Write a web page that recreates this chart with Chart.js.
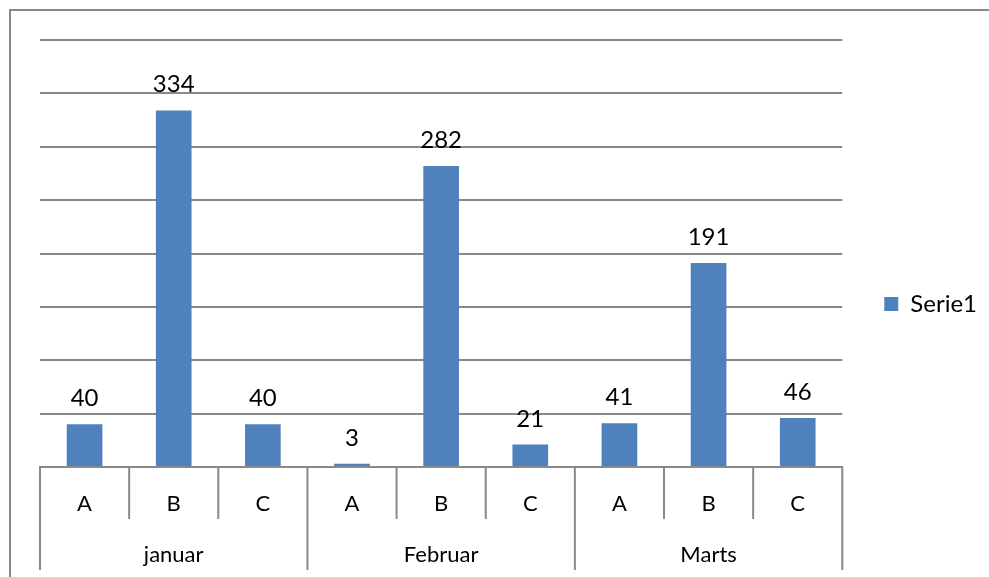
<!DOCTYPE html>
<html>
<head>
<meta charset="utf-8">
<script src="https://cdn.jsdelivr.net/npm/chart.js@4/dist/chart.umd.min.js"></script>
<style>
  html, body { margin: 0; padding: 0; background: #fff; }
  #wrap { width: 989px; height: 577px; }
</style>
</head>
<body>
<div id="wrap"><canvas id="myChart" width="989" height="577"></canvas></div>
<script>
const categories = ["A", "B", "C", "A", "B", "C", "A", "B", "C"];
const months = ["januar", "Februar", "Marts"];
const serie1 = [40, 334, 40, 3, 282, 21, 41, 191, 46];

const gray = "#898989";
const blue = "#4F81BD";
const fontFamily = "Lato, 'Liberation Sans', sans-serif";

// frame round the whole chart
const framePlugin = {
  id: "frame",
  beforeDraw(chart) {
    const ctx = chart.ctx;
    ctx.save();
    ctx.strokeStyle = gray;
    ctx.lineWidth = 2;
    ctx.strokeRect(10, 10, chart.width + 20, chart.height + 20);
    ctx.restore();
  }
};

// dividers under the category axis (short between items, long between months)
const dividerPlugin = {
  id: "dividers",
  afterDraw(chart) {
    const x = chart.scales.x;
    const ctx = chart.ctx;
    const n = categories.length;
    const w = (x.right - x.left) / n;
    ctx.save();
    ctx.strokeStyle = gray;
    ctx.lineWidth = 2;
    for (let k = 0; k <= n; k++) {
      const px = x.left + k * w;
      const len = k % 3 === 0 ? 103 : 52;
      ctx.beginPath();
      ctx.moveTo(px, x.top);
      ctx.lineTo(px, x.top + len);
      ctx.stroke();
    }
    ctx.restore();
  }
};

// value labels above the bars
const valuePlugin = {
  id: "values",
  afterDatasetsDraw(chart) {
    const ctx = chart.ctx;
    const meta = chart.getDatasetMeta(0);
    ctx.save();
    ctx.fillStyle = "#000";
    ctx.font = "24px " + fontFamily;
    ctx.textAlign = "center";
    ctx.textBaseline = "alphabetic";
    meta.data.forEach((bar, i) => {
      ctx.fillText(String(serie1[i]), bar.x, bar.y - 18);
    });
    ctx.restore();
  }
};

const data = {
  labels: categories,
  datasets: [
    {
      label: "Serie1",
      backgroundColor: blue,
      borderWidth: 0,
      data: serie1,
      barPercentage: 0.4,
      categoryPercentage: 1.0,
    },
  ],
};

const config = {
  type: "bar",
  data: data,
  options: {
    responsive: false,
    animation: false,
    layout: { padding: { left: 40, top: 40, right: 2, bottom: 9 } },
    plugins: {
      tooltip: { enabled: false },
      legend: {
        position: "right",
        labels: {
          boxWidth: 14,
          boxHeight: 14,
          padding: 42,
          color: "#000",
          font: { family: fontFamily, size: 24 },
        },
      },
    },
    scales: {
      x: {
        offset: true,
        grid: { display: false, drawTicks: false },
        border: { display: true, color: gray, width: 2 },
        ticks: {
          color: "#000",
          padding: 26,
          maxRotation: 0,
          autoSkip: false,
          font: { family: fontFamily, size: 22, lineHeight: 1 },
        },
      },
      x2: {
        type: "category",
        labels: months,
        position: "bottom",
        offset: true,
        grid: { display: false, drawTicks: false },
        border: { display: false },
        ticks: {
          color: "#000",
          padding: 2.5,
          maxRotation: 0,
          font: { family: fontFamily, size: 22, lineHeight: 1 },
        },
      },
      y: {
        min: 0,
        max: 400,
        ticks: { display: false, stepSize: 50 },
        grid: { color: gray, lineWidth: 2, drawTicks: false },
        border: { display: false },
      },
    },
  },
  plugins: [framePlugin, dividerPlugin, valuePlugin],
};

new Chart(document.getElementById("myChart"), config);
</script>
</body>
</html>
